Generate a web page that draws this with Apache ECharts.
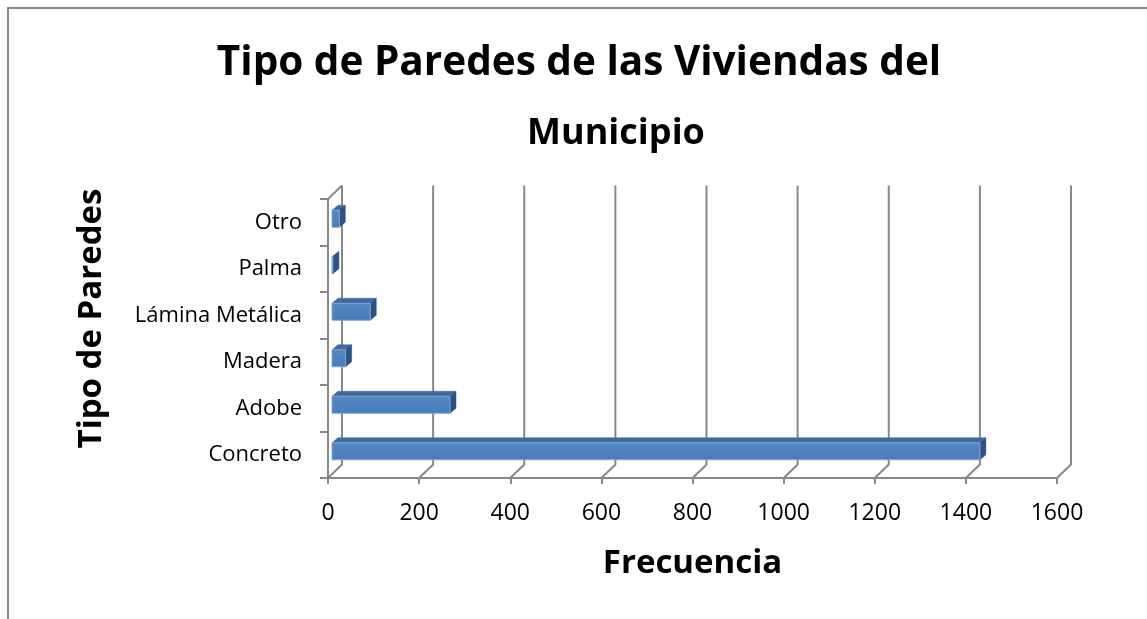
<!DOCTYPE html>
<html>
<head>
<meta charset="utf-8">
<title>Tipo de Paredes de las Viviendas del Municipio</title>
<script src="https://cdn.jsdelivr.net/npm/echarts@6.0.0/dist/echarts.min.js"></script>
<style>
  html, body { margin: 0; padding: 0; background: #fff; }
  #chart { width: 1147px; height: 619px; }
</style>
</head>
<body>
<div id="chart"></div>
<script>
// datos
const categories = ['Concreto', 'Adobe', 'Madera', 'Lámina Metálica', 'Palma', 'Otro'];
const frecuencia = [1422, 259, 30, 84, 2, 16];
const xTicks = [0, 200, 400, 600, 800, 1000, 1200, 1400, 1600];

const FONT = '"Open Sans", Lato, sans-serif';
const GRAY = '#888888';
// profundidad de la pared del fondo
const WALL_DX = 14;
const WALL_DY = 13.5;

const chart = echarts.init(document.getElementById('chart'));

chart.setOption({
  animation: false,
  graphic: [
    {
      type: 'rect',
      z: -10,
      shape: { x: 8, y: 8, width: 1300, height: 800 },
      style: { fill: 'none', stroke: '#8a8a8a', lineWidth: 2 }
    },
    {
      type: 'text',
      x: 579, y: 63,
      style: {
        text: 'Tipo de Paredes de las Viviendas del',
        font: 'bold 40.5px ' + FONT,
        fill: '#000', align: 'center', verticalAlign: 'middle'
      }
    },
    {
      type: 'text',
      x: 616, y: 134,
      style: {
        text: 'Municipio',
        font: 'bold 36px ' + FONT,
        fill: '#000', align: 'center', verticalAlign: 'middle'
      }
    }
  ],
  grid: { left: 328, top: 199, width: 729, height: 279 },
  xAxis: {
    type: 'value',
    min: 0,
    max: 1600,
    interval: 200,
    name: 'Frecuencia',
    nameLocation: 'middle',
    nameGap: 69,
    nameTextStyle: { fontFamily: FONT, fontWeight: 'bold', fontSize: 33, color: '#000' },
    splitLine: { show: false },
    axisLine: { show: true, lineStyle: { color: GRAY, width: 2 } },
    axisTick: { show: true, length: 6, lineStyle: { color: GRAY, width: 2 } },
    axisLabel: {
      fontFamily: FONT, fontSize: 23, color: '#000', margin: 24,
      formatter: v => String(v)
    }
  },
  yAxis: {
    type: 'category',
    data: categories,
    name: 'Tipo de Paredes',
    nameLocation: 'middle',
    nameGap: 220,
    nameTextStyle: {
      fontFamily: FONT, fontWeight: 'bold', fontSize: 33, color: '#000',
      padding: [0, 0, 0, 40]
    },
    axisLine: { show: true, lineStyle: { color: GRAY, width: 2 } },
    axisTick: { show: true, length: 8, lineStyle: { color: GRAY, width: 2 } },
    axisLabel: { fontFamily: FONT, fontSize: 22, color: '#000', margin: 26 }
  },
  series: [
    {
      // pared del fondo y piso
      type: 'custom',
      z: 1,
      silent: true,
      data: xTicks.map(v => [v, 0]),
      renderItem: function (params, api) {
        const cs = params.coordSys;
        const x = api.coord([api.value(0), 0])[0];
        const bottom = cs.y + cs.height;
        const top = cs.y;
        const children = [{
          type: 'polyline',
          shape: { points: [[x, bottom], [x + WALL_DX, bottom - WALL_DY], [x + WALL_DX, top - WALL_DY]] },
          style: { stroke: GRAY, lineWidth: 2, fill: 'none' }
        }];
        if (params.dataIndex === 0) {
          children.push({
            type: 'line',
            shape: { x1: x, y1: top, x2: x + WALL_DX, y2: top - WALL_DY },
            style: { stroke: GRAY, lineWidth: 2 }
          });
        }
        return { type: 'group', children: children };
      }
    },
    {
      // barras 3D
      type: 'custom',
      name: 'Frecuencia',
      z: 5,
      data: frecuencia.map((v, i) => [v, i]),
      renderItem: function (params, api) {
        const idx = api.value(1);
        const s = api.coord([0, idx]);
        const e = api.coord([api.value(0), idx]);
        const ox = 4, oy = -3.5, h = 17, dx = 6, dy = 5;
        const x0 = s[0] + ox;
        const x1 = e[0] + ox;
        const yT = s[1] + oy - h / 2;
        const yB = s[1] + oy + h / 2;
        return {
          type: 'group',
          children: [
            {
              type: 'polygon',
              shape: { points: [[x0, yT], [x0 + dx, yT - dy], [x1 + dx, yT - dy], [x1, yT]] },
              style: { fill: '#3f6a9f', stroke: '#3f6a9f', lineWidth: 0.5 }
            },
            {
              type: 'polygon',
              shape: { points: [[x1, yT], [x1 + dx, yT - dy], [x1 + dx, yB - dy], [x1, yB]] },
              style: { fill: '#2d5280', stroke: '#2d5280', lineWidth: 0.5 }
            },
            {
              type: 'rect',
              shape: { x: x0, y: yT, width: Math.max(x1 - x0, 0.5), height: h },
              style: {
                fill: new echarts.graphic.LinearGradient(0, 0, 0, 1, [
                  { offset: 0, color: '#5587c4' },
                  { offset: 1, color: '#4a7cb9' }
                ]),
                stroke: '#7ea6d6',
                lineWidth: 1
              }
            }
          ]
        };
      }
    }
  ]
});
</script>
</body>
</html>
